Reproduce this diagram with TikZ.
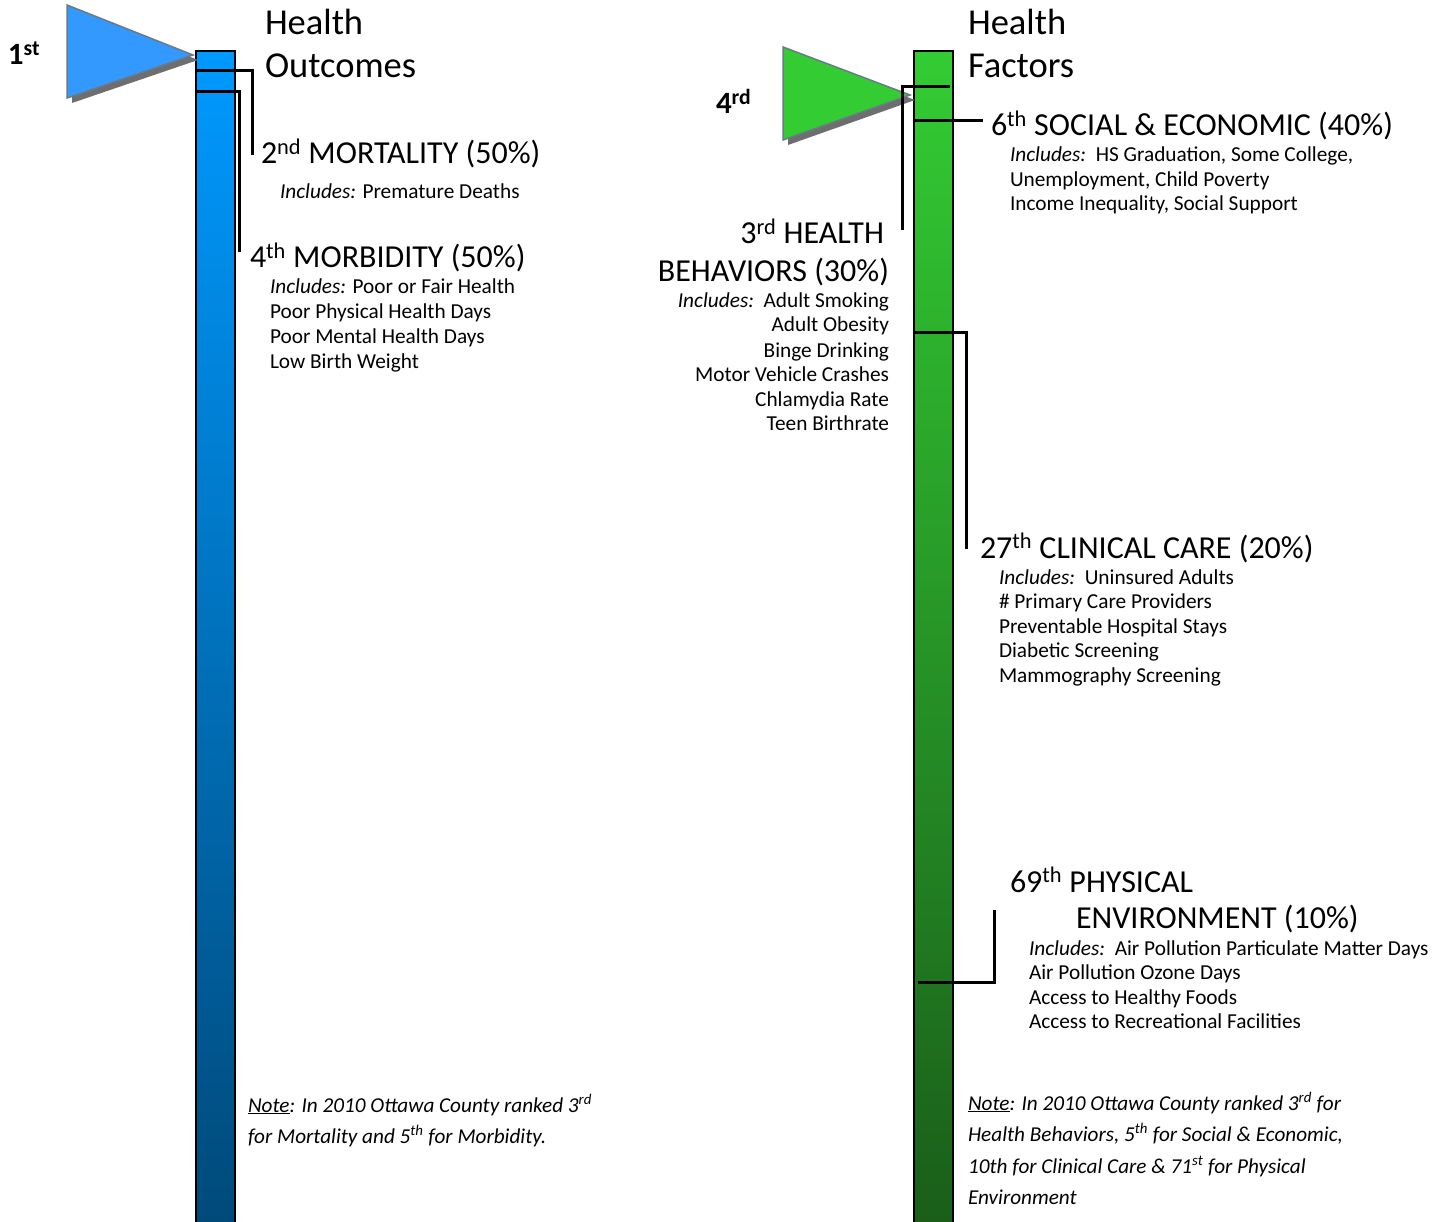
\documentclass[tikz,border=0pt]{standalone}
\usepackage{fontspec}
\setmainfont{Carlito}
\definecolor{bluetop}{HTML}{0099FF}
\definecolor{bluebot}{HTML}{004A7A}
\definecolor{greentop}{HTML}{33CC33}
\definecolor{greenbot}{HTML}{1A5E1A}
\definecolor{triblue}{HTML}{3399FF}
\definecolor{trigreen}{HTML}{33CC33}
\definecolor{triedge}{HTML}{6A7A86}
\definecolor{shadowgray}{HTML}{6E6E6E}
\tikzset{
  txt/.style={inner sep=0pt, outer sep=0pt, anchor=base west},
  txtr/.style={inner sep=0pt, outer sep=0pt, anchor=base east},
  ttl/.style={txt, font=\fontsize{36.5}{43}\selectfont},
  hd/.style={font=\fontsize{32}{36}\selectfont},
  inc/.style={font=\fontsize{21.3}{25}\selectfont},
  notef/.style={txt, font=\fontsize{21.2}{25}\selectfont\itshape},
  rankf/.style={txt, font=\fontsize{31}{34}\selectfont\bfseries},
  conn/.style={line width=3pt, black},
  barline/.style={line width=2.5pt, black},
  flag/.style={draw=triedge, line width=1.5pt, line join=miter},
}
\begin{document}
\begin{tikzpicture}[x=1pt,y=-1pt]
\useasboundingbox (0,0) rectangle (1450,1222);
% ---------- left bar ----------
\shade[top color=bluetop, bottom color=bluebot] (196,51) rectangle (235,1222);
\draw[barline] (196,1224) -- (196,51) -- (235,51) -- (235,1224);
% left flag
\fill[shadowgray] (72,103) -- (72,10) -- (198,60) -- cycle;
\draw[flag, fill=triblue] (67,98) -- (67,5) -- (193,55) -- cycle;
\node[rankf] (r1) at (8,65) {1\textsuperscript{st}};
% left connectors
\coordinate (m1) at (196,71);
\coordinate (m2) at (252,155);
\coordinate (b1) at (196,92);
\coordinate (b2) at (239,252);
\draw[conn] (m1) -| (m2);
\draw[conn] (b1) -| (b2);
% left texts
\node[ttl] (ho1) at (265,35) {Health};
\node[ttl] (ho2) at (265,78) {Outcomes};
\node[txt,hd] (mort) at (261,164) {2\textsuperscript{nd} MORTALITY (50\%)};
\node[txt,inc] (morti) at (280,199) {\textit{Includes:} Premature Deaths};
\node[txt,hd] (morb) at (250,268) {4\textsuperscript{th} MORBIDITY (50\%)};
\node[txt,inc] (morb1) at (270,294) {\textit{Includes:} Poor or Fair Health};
\node[txt,inc] (morb2) at (270,319) {Poor Physical Health Days};
\node[txt,inc] (morb3) at (270,343) {Poor Mental Health Days};
\node[txt,inc] (morb4) at (270,368) {Low Birth Weight};
\node[notef] (ln1) at (248,1112) {\underline{Note}: In 2010 Ottawa County ranked 3\textsuperscript{rd}};
\node[notef] (ln2) at (248,1143) {for Mortality and 5\textsuperscript{th} for Morbidity.};
% ---------- right bar ----------
\shade[top color=greentop, bottom color=greenbot] (914,51) rectangle (953,1222);
\draw[barline] (914,1224) -- (914,51) -- (953,51) -- (953,1224);
% right flag
\fill[shadowgray] (788,145) -- (788,52) -- (915,100) -- cycle;
\draw[flag, fill=trigreen] (783,140) -- (783,47) -- (910,95) -- cycle;
\node[rankf] (r4) at (716,114) {4\textsuperscript{rd}};
% right connectors
\coordinate (hb1) at (950,87);
\coordinate (hb2) at (902,230);
\draw[conn] (hb1) -| (hb2);
\coordinate (se1) at (914,121);
\coordinate (se2) at (983,121);
\draw[conn] (se1) -- (se2);
\coordinate (cc1) at (915,333);
\coordinate (cc2) at (966,549);
\draw[conn] (cc1) -| (cc2);
\coordinate (pe1) at (918,982);
\coordinate (pe2) at (994,910);
\draw[conn] (pe1) -| (pe2);
% right texts
\node[ttl] (hf1) at (968,35) {Health};
\node[ttl] (hf2) at (968,78) {Factors};
\node[txt,hd] (soc) at (991,136) {6\textsuperscript{th} SOCIAL \& ECONOMIC (40\%)};
\node[txt,inc] (soc1) at (1010,162) {\textit{Includes:}\ \ HS Graduation, Some College,};
\node[txt,inc] (soc2) at (1010,187) {Unemployment, Child Poverty};
\node[txt,inc] (soc3) at (1010,211) {Income Inequality, Social Support};
\node[txtr,hd] (beh1) at (884,244) {3\textsuperscript{rd} HEALTH};
\node[txtr,hd] (beh2) at (889,282) {BEHAVIORS (30\%)};
\node[txtr,inc] (beh3) at (889,308) {\textit{Includes:}\ \ Adult Smoking};
\node[txtr,inc] (beh4) at (889,332) {Adult Obesity};
\node[txtr,inc] (beh5) at (889,357) {Binge Drinking};
\node[txtr,inc] (beh6) at (889,381) {Motor Vehicle Crashes};
\node[txtr,inc] (beh7) at (889,406) {Chlamydia Rate};
\node[txtr,inc] (beh8) at (889,430) {Teen Birthrate};
\node[txt,hd] (cl) at (980,558) {27\textsuperscript{th} CLINICAL CARE (20\%)};
\node[txt,inc] (cl1) at (999,584) {\textit{Includes:}\ \ Uninsured Adults};
\node[txt,inc] (cl2) at (999,608) {\# Primary Care Providers};
\node[txt,inc] (cl3) at (999,633) {Preventable Hospital Stays};
\node[txt,inc] (cl4) at (999,657) {Diabetic Screening};
\node[txt,inc] (cl5) at (999,682) {Mammography Screening};
\node[txt,hd] (pe) at (1010,892) {69\textsuperscript{th} PHYSICAL};
\node[txt,hd] (pe0) at (1076,928) {ENVIRONMENT (10\%)};
\node[txt,inc] (pei1) at (1029,955) {\textit{Includes:}\ \ Air Pollution Particulate Matter Days};
\node[txt,inc] (pei2) at (1029,979) {Air Pollution Ozone Days};
\node[txt,inc] (pei3) at (1029,1004) {Access to Healthy Foods};
\node[txt,inc] (pei4) at (1029,1028) {Access to Recreational Facilities};
\node[notef] (rn1) at (968,1110) {\underline{Note}: In 2010 Ottawa County ranked 3\textsuperscript{rd} for};
\node[notef] (rn2) at (968,1141) {Health Behaviors, 5\textsuperscript{th} for Social \& Economic,};
\node[notef] (rn3) at (968,1173) {10th for Clinical Care \& 71\textsuperscript{st} for Physical};
\node[notef] (rn4) at (968,1204) {Environment};
\end{tikzpicture}
\end{document}
